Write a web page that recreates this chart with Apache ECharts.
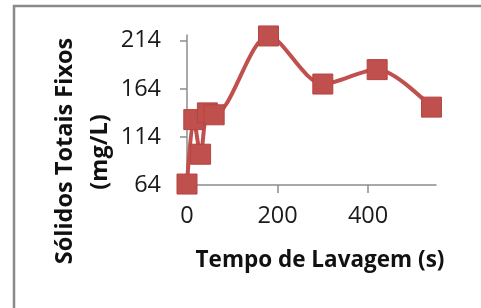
<!DOCTYPE html>
<html>
<head>
<meta charset="utf-8">
<script src="https://cdn.jsdelivr.net/npm/echarts@6/dist/echarts.min.js"></script>
<style>
  html, body { margin: 0; padding: 0; background: #fff; }
  #chart { width: 481px; height: 308px; }
</style>
</head>
<body>
<div id="chart"></div>
<script>
// tempo de lavagem (s) e sólidos totais fixos (mg/L)
var tempos = [0, 15, 30, 45, 60, 180, 300, 420, 540];
var solidos = [65, 132, 96, 139, 137, 219, 169, 184, 145];
var xTicks = [0, 200, 400];
var yTicks = [64, 114, 164, 214];

var cor = '#C0504D';
var fonte = '"Open Sans", sans-serif';

var chart = echarts.init(document.getElementById('chart'));

var pontos = [];
for (var i = 0; i < tempos.length; i++) {
    pontos.push([tempos[i], solidos[i]]);
}

var option = {
    animation: false,
    grid: { left: 187, right: 45, top: 35, bottom: 123 },
    xAxis: {
        type: 'value',
        min: 0,
        max: 550,
        axisLine: { show: true, lineStyle: { color: '#8c8c8c', width: 1.5 } },
        axisTick: { show: true, length: 8, customValues: xTicks, lineStyle: { color: '#8c8c8c', width: 1.5 } },
        axisLabel: { customValues: xTicks, margin: 19, color: '#1a1a1a', fontFamily: fonte, fontSize: 23.5 },
        splitLine: { show: false }
    },
    yAxis: {
        type: 'value',
        min: 64,
        max: 220,
        axisLine: { show: true, lineStyle: { color: '#8c8c8c', width: 1.5 } },
        axisTick: { show: true, length: 7, customValues: yTicks, lineStyle: { color: '#8c8c8c', width: 1.5 } },
        axisLabel: { customValues: yTicks, margin: 26, color: '#1a1a1a', fontFamily: fonte, fontSize: 23.5 },
        splitLine: { show: false }
    },
    graphic: [
        { // moldura
            type: 'rect', z: -1,
            shape: { x: 14, y: 6, width: 500, height: 400 },
            style: { fill: 'none', stroke: '#8a8a8a', lineWidth: 2.5 }
        },
        {
            type: 'text', x: 320, y: 261,
            style: { text: 'Tempo de Lavagem (s)', fill: '#111', font: 'bold 22.5px ' + fonte, textAlign: 'center', textVerticalAlign: 'middle' }
        },
        {
            type: 'text', x: 65, y: 151, rotation: Math.PI / 2,
            style: { text: 'Sólidos Totais Fixos', fill: '#111', font: 'bold 23.5px ' + fonte, textAlign: 'center', textVerticalAlign: 'middle' }
        },
        {
            type: 'text', x: 100, y: 152, rotation: Math.PI / 2,
            style: { text: '(mg/L)', fill: '#111', font: 'bold 23.5px ' + fonte, textAlign: 'center', textVerticalAlign: 'middle' }
        }
    ],
    series: [
        {
            type: 'line',
            data: pontos,
            smooth: 0.3,
            symbol: 'rect',
            symbolSize: 20,
            lineStyle: { color: cor, width: 4 },
            itemStyle: { color: cor, borderColor: '#b54542', borderWidth: 1 }
        }
    ]
};

chart.setOption(option);
</script>
</body>
</html>
